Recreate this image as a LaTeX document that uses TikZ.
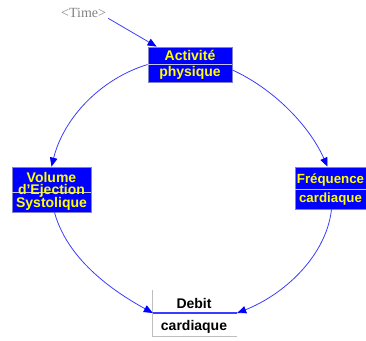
\documentclass[tikz,border=0pt]{standalone}
\usepackage{fontspec}
\setmainfont{Liberation Sans}
\newfontfamily\timefont{Liberation Serif}
\usetikzlibrary{arrows.meta}
\definecolor{boxblue}{RGB}{0,0,255}
\definecolor{boxedge}{RGB}{130,130,200}
\definecolor{divline}{RGB}{195,195,240}
\definecolor{arccol}{RGB}{60,60,255}
\definecolor{ylw}{RGB}{255,255,0}
\definecolor{tgray}{RGB}{130,130,130}
\definecolor{dgray}{RGB}{190,190,190}
\tikzset{
  varbox/.style={draw=boxedge,fill=boxblue,line width=0.8pt,inner sep=0pt,rectangle},
  plainbox/.style={inner sep=0pt,rectangle},
  vtext/.style={text=ylw,font=\bfseries\fontsize{14}{15}\selectfont,inner sep=0pt,anchor=base},
  vtextsm/.style={text=ylw,font=\bfseries\fontsize{13.3}{15}\selectfont,inner sep=0pt,anchor=base},
  btext/.style={text=black,font=\bfseries\fontsize{14}{15}\selectfont,inner sep=0pt,anchor=base},
  ttext/.style={text=tgray,font=\timefont\fontsize{14}{15}\selectfont,inner sep=0pt,anchor=base west},
  divl/.style={draw=divline,line width=0.9pt},
  flow/.style={draw=arccol,line width=0.8pt,-{Triangle[length=9pt,width=7.5pt,color=boxblue]}}
}
\begin{document}
\begin{tikzpicture}[x=1pt,y=-1pt]
\useasboundingbox (0,0) rectangle (366,340);
\clip (0,0) rectangle (366,340);
% boxes
\node[varbox,minimum width=75pt,minimum height=42pt] (freq) at (332.5,188) {};
\node[varbox,minimum width=84pt,minimum height=35pt] (act) at (190,64.5) {};
\node[varbox,minimum width=79pt,minimum height=45pt] (vol) at (51.5,189.5) {};
\node[plainbox,minimum width=84pt,minimum height=46pt] (deb) at (195,313) {};
% dividers
\draw[divl] (act.west) -- (act.east);
\draw[divl] ([yshift=-2.5pt]vol.west) -- ([yshift=-2.5pt]vol.east);
\draw[divl] ([yshift=-1pt]freq.west) -- ([yshift=-1pt]freq.east);
\draw[dgray,line width=0.9pt] (deb.north west) -- (deb.south west) -- (deb.south east);
\draw[arccol,line width=1.3pt] (deb.west) -- (deb.east);
% texts
\node[vtext] (actA) at (190,60) {Activité};
\node[vtext] (actB) at (190,76) {physique};
\node[vtext] (volA) at (51.5,182) {Volume};
\node[vtext] (volB) at (51.5,194.5) {d'Ejection};
\node[vtext] (volC) at (51.5,207) {Systolique};
\node[vtextsm] (freqA) at (330.5,183) {Fréquence};
\node[vtextsm] (freqB) at (330.5,202) {cardiaque};
\node[btext] (debA) at (194,308) {Debit};
\node[btext] (debB) at (194,330) {cardiaque};
\node[ttext] (time) at (61,17) {<Time>};
% connectors
\draw[flow] ([xshift=2pt,yshift=-1pt]time.south east) -- ([xshift=9pt]act.north west);
\draw[flow] (act.west) .. controls (100,79) and (63.5,118.5) .. (vol.north);
\draw[flow] ([yshift=-5.5pt]act.east) .. controls (273,88.5) and (309,125) .. ([xshift=-5pt]freq.north);
\draw[flow] ([xshift=3pt]vol.south) .. controls (67,258) and (110,289.5) .. (deb.west);
\draw[flow] ([xshift=-1pt]freq.south) .. controls (326,257) and (283,295) .. (deb.east);
\end{tikzpicture}
\end{document}
